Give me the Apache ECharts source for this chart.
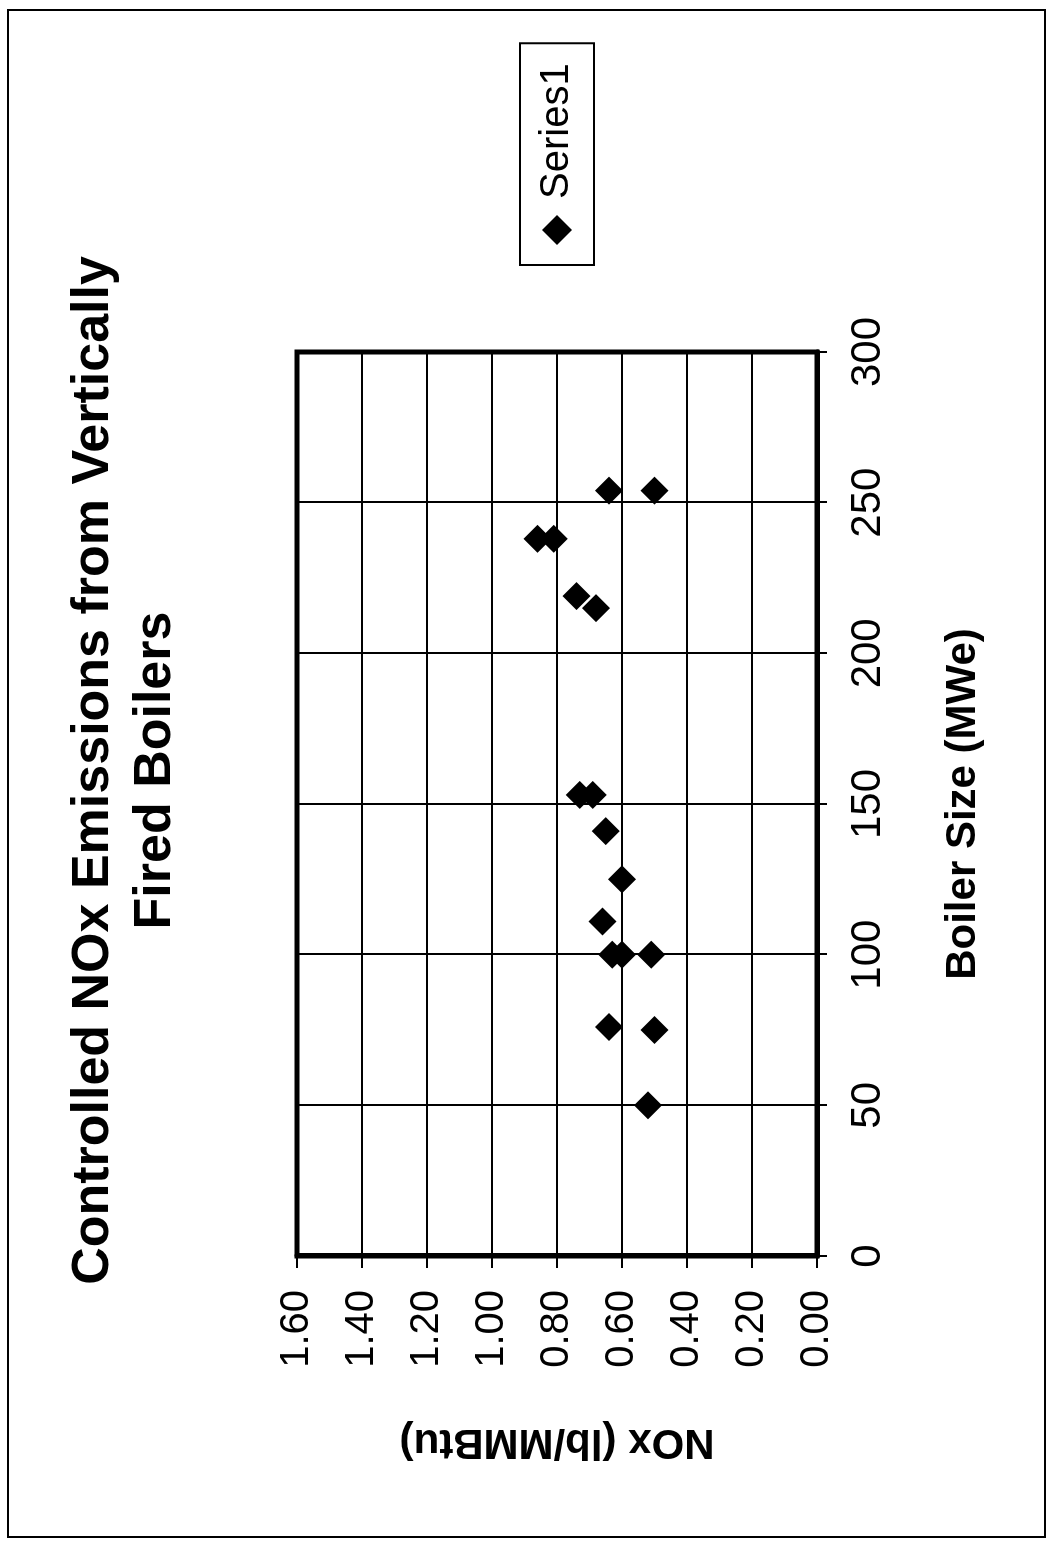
<!DOCTYPE html>
<html>
<head>
<meta charset="utf-8">
<title>Controlled NOx Emissions from Vertically Fired Boilers</title>
<script src="https://cdn.jsdelivr.net/npm/echarts@6/dist/echarts.min.js"></script>
<style>
  html, body { margin: 0; padding: 0; background: #fff; overflow: hidden; width: 1052px; height: 1541px; }
  /* the page is printed sideways: draw the landscape chart, then turn it a quarter turn */
  #chart {
    position: absolute; left: 0; top: 0; width: 1541px; height: 1052px;
    transform-origin: 0 0; transform: translateY(1541px) rotate(-90deg);
  }
</style>
</head>
<body>
<div id="chart"></div>
<script>
// boiler size (MWe) and controlled NOx (lb/MMBtu), one entry per boiler
const boilerSize = [254, 254, 238, 238, 219, 215, 153, 153, 141, 125, 111, 100, 100, 100, 76, 75, 50]
const noxRate = [0.64, 0.50, 0.86, 0.81, 0.74, 0.68, 0.73, 0.69, 0.65, 0.60, 0.66, 0.63, 0.60, 0.51, 0.64, 0.50, 0.52]

const sizeTicks = { min: 0, max: 300, interval: 50 }
const noxTicks = { min: 0, max: 1.6, interval: 0.2 }

const font = "'Liberation Sans', Arial, sans-serif"

const chart = echarts.init(document.getElementById('chart'))

chart.setOption({
  backgroundColor: '#fff',
  animation: false,
  textStyle: { fontFamily: font, color: '#000' },
  title: {
    text: 'Controlled NOx Emissions from Vertically\nFired Boilers',
    left: 'center',
    top: 58,
    textStyle: { fontFamily: font, fontSize: 52, fontWeight: 'bold', lineHeight: 62, color: '#000' },
  },
  legend: {
    data: ['Series1'],
    left: 1276,
    top: 520,
    padding: [17, 20],
    borderColor: '#000',
    borderWidth: 2,
    itemWidth: 30,
    itemHeight: 30,
    itemGap: 10,
    icon: 'diamond',
    formatter: name => ' ' + name,
    itemStyle: { color: '#000', opacity: 1 },
    textStyle: { fontFamily: font, fontSize: 40, color: '#000' },
  },
  grid: {
    left: 285, right: 352, top: 297, bottom: 235,
    show: true, borderColor: '#000', borderWidth: 5,
  },
  xAxis: {
    type: 'value',
    ...sizeTicks,
    name: 'Boiler Size (MWe)',
    nameLocation: 'middle',
    nameGap: 125,
    nameTextStyle: { fontFamily: font, fontSize: 42, fontWeight: 'bold', color: '#000' },
    axisLine: { show: true, lineStyle: { color: '#000', width: 5 } },
    axisTick: { show: true, length: 10, lineStyle: { color: '#000', width: 2 } },
    axisLabel: { fontFamily: font, fontSize: 42, color: '#000', margin: 30 },
    splitLine: { show: true, lineStyle: { color: '#000', width: 2 } },
  },
  yAxis: {
    type: 'value',
    ...noxTicks,
    name: 'NOx (lb/MMBtu)',
    nameLocation: 'middle',
    nameGap: 165,
    nameTextStyle: { fontFamily: font, fontSize: 42, fontWeight: 'bold', color: '#000' },
    axisLine: { show: true, lineStyle: { color: '#000', width: 5 } },
    axisTick: { show: true, length: 12, lineStyle: { color: '#000', width: 2 } },
    axisLabel: { fontFamily: font, fontSize: 40, color: '#000', margin: 34, formatter: v => v.toFixed(2) },
    splitLine: { show: true, lineStyle: { color: '#000', width: 2 } },
  },
  graphic: [{
    type: 'rect',
    shape: { x: 4, y: 8, width: 1527, height: 1037 },
    style: { fill: 'none', stroke: '#000', lineWidth: 2 },
    silent: true,
  }],
  series: [{
    name: 'Series1',
    type: 'scatter',
    symbol: 'diamond',
    symbolSize: 28,
    itemStyle: { color: '#000', opacity: 1 },
    data: boilerSize.map((s, i) => [s, noxRate[i]]),
  }],
})
</script>
</body>
</html>
